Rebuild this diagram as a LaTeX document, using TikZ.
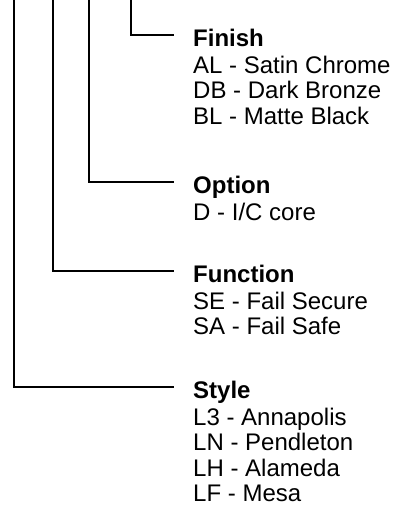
\documentclass[tikz,border=0pt]{standalone}
\usepackage{fontspec}
\setmainfont{Liberation Sans}
\usetikzlibrary{positioning}

\begin{document}
\begin{tikzpicture}[x=1pt,y=-1pt,
  tree/.style={line width=1.6pt, shorten >=19pt},
  heading/.style={font=\fontsize{24}{25.5}\selectfont\bfseries,
    inner sep=0pt, text height=23pt, text depth=0pt, anchor=west},
  choices/.style={font=\fontsize{24}{25.5}\selectfont,
    inner sep=0pt, align=left}]
  \useasboundingbox (0,0) rectangle (394,520);

  % where the four stems leave the top edge
  \coordinate (finish top) at (131,0);
  \coordinate (option top) at (89,0);
  \coordinate (function top) at (53,0);
  \coordinate (style top) at (14,0);

  \node[heading] (finish) at (193,35) {Finish};
  \node[choices, below=9pt of finish.south west, anchor=north west] (finish list)
    {AL - Satin Chrome\\DB - Dark Bronze\\BL - Matte Black};

  \node[heading] (option) at (193,182) {Option};
  \node[choices, below=9pt of option.south west, anchor=north west] (option list)
    {D - I/C core};

  \node[heading] (function) at (193,271) {Function};
  \node[choices, below=9pt of function.south west, anchor=north west] (function list)
    {SE - Fail Secure\\SA - Fail Safe};

  \node[heading] (style) at (193,387) {Style};
  \node[choices, below=9pt of style.south west, anchor=north west] (style list)
    {L3 - Annapolis\\LN - Pendleton\\LH - Alameda\\LF - Mesa};

  \draw[tree] (finish top) |- (finish.west);
  \draw[tree] (option top) |- (option.west);
  \draw[tree] (function top) |- (function.west);
  \draw[tree] (style top) |- (style.west);
\end{tikzpicture}
\end{document}
